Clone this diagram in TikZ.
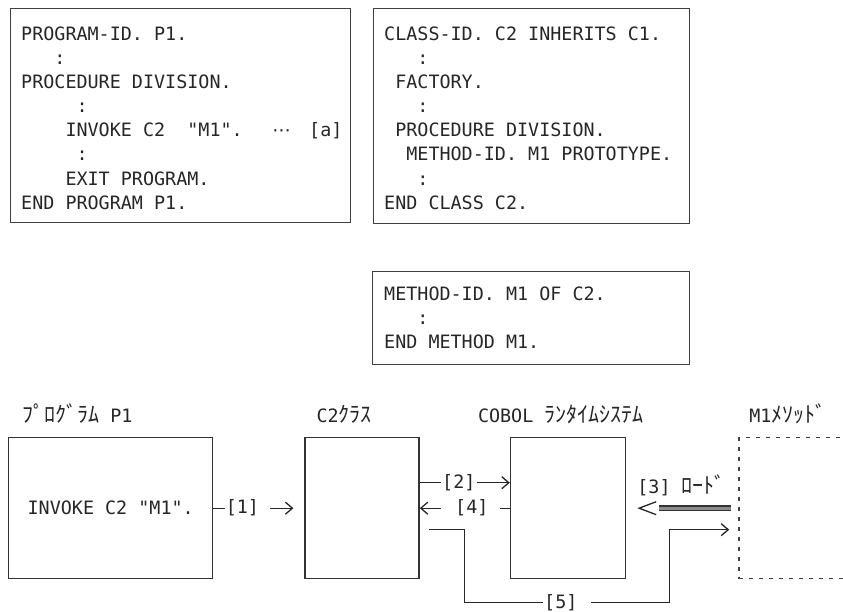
\documentclass[tikz,border=0pt]{standalone}
\usepackage{fontspec}
\usepackage{tikz}
\usetikzlibrary{arrows.meta, positioning}
\newfontfamily\codefont{DejaVu Sans Mono}
\newfontfamily\kana{Noto Sans CJK JP}
\newfontfamily\symfont{DejaVu Sans}
\newcommand{\codesize}{\fontsize{18.4pt}{24.1pt}\selectfont}
\newcommand{\kn}[1]{{\kana\fontsize{22pt}{26pt}\selectfont #1}}
\tikzstyle{srcbox} = [rectangle, draw=black!75, line width=1.4pt,
    anchor=north west, inner sep=0pt]
\tikzstyle{codetext} = [font=\codefont\codesize, align=left,
    anchor=north west, inner sep=0pt, text=black!85]
\tikzstyle{unitbox} = [rectangle, draw=black!80, line width=1.4pt,
    minimum height=141pt, inner sep=0pt, font=\codefont\codesize, text=black!85]
\tikzstyle{heading} = [font=\codefont\codesize, anchor=base west,
    inner sep=0pt, text=black!85]
\tikzstyle{numtag} = [font=\codefont\codesize, inner xsep=1pt,
    inner ysep=0pt, text=black!85]
\tikzstyle{conn} = [line width=1.3pt, draw=black!85]
\tikzstyle{arrow} = [conn, -{Straight Barb[length=7pt, width=12pt]}]
\tikzstyle{loadbar} = [line width=1.4pt, draw=black!80,
    double=black!45, double distance=2.8pt]

\begin{document}
\begin{tikzpicture}[x=1pt, y=-1pt]
  \useasboundingbox (0,0) rectangle (843,612);

  % source listings
  \node (srcP) [srcbox, minimum width=340pt, minimum height=214pt] at (10,8) {};
  \node (srcC) [srcbox, minimum width=316pt, minimum height=215pt] at (373,8) {};
  \node (srcM) [srcbox, minimum width=317pt, minimum height=93pt] at (372,271) {};

  \node (codeP) [codetext] at ([xshift=11pt, yshift=-18.6pt]srcP.north west)
    {PROGRAM-ID. P1.\\
     \phantom{000}:\\
     PROCEDURE DIVISION.\\
     \phantom{00000}:\\
     \phantom{0000}INVOKE C2~~"M1".~~~\makebox[0.602em]{\symfont ⋯}~~[a]\\
     \phantom{00000}:\\
     \phantom{0000}EXIT PROGRAM.\\
     END PROGRAM P1.};
  \node (codeC) [codetext] at ([xshift=11pt, yshift=-18.6pt]srcC.north west)
    {CLASS-ID. C2 INHERITS C1.\\
     \phantom{000}:\\
     \phantom{0}FACTORY.\\
     \phantom{000}:\\
     \phantom{0}PROCEDURE DIVISION.\\
     \phantom{00}METHOD-ID. M1 PROTOTYPE.\\
     \phantom{000}:\\
     END CLASS C2.};
  \node (codeM) [codetext] at ([xshift=12pt, yshift=-15.6pt]srcM.north west)
    {METHOD-ID. M1 OF C2.\\
     \phantom{000}:\\
     END METHOD M1.};

  % runtime units
  \node (progp)  [unitbox, minimum width=204pt, anchor=north west] at (8,437) {INVOKE C2 "M1".};
  \node (clsbox) [unitbox, minimum width=114pt, right=91pt of progp] {};
  \node (rtbox)  [unitbox, minimum width=115pt, right=90pt of clsbox] {};
  \node (m1box)  [unitbox, minimum width=130pt, right=112pt of rtbox,
                  draw=black!75, dash pattern=on 4pt off 6pt] {};

  \node (hdP)  [heading] at ([xshift=14pt, yshift=15pt]progp.north west) {\kn{ﾌﾟﾛｸﾞﾗﾑ} P1};
  \node (hdC)  [heading] at ([xshift=12pt, yshift=15pt]clsbox.north west) {C2\kn{ｸﾗｽ}};
  \node (hdRt) [heading] at ([xshift=-32pt, yshift=15pt]rtbox.north west) {COBOL \kn{ﾗﾝﾀｲﾑｼｽﾃﾑ}};
  \node (hdM)  [heading] at ([xshift=11pt, yshift=15pt]m1box.north west) {M1\kn{ﾒｿｯﾄﾞ}};

  % calls
  \node (n1) [numtag] at ([xshift=29pt]progp.east) {[1]};
  \node (n2) [numtag] at ([xshift=39pt, yshift=25.5pt]clsbox.east) {[2]};
  \node (n4) [numtag] at ([xshift=52pt]clsbox.east) {[4]};
  \node (n5) [numtag] at ([xshift=141pt, yshift=-23pt]clsbox.south east) {[5]};
  \node (n3) [heading] at ([xshift=-101pt, yshift=14.5pt]m1box.west) {[3] \kn{ﾛｰﾄﾞ}};
  \coordinate (ldend) at ([xshift=-99pt]m1box.west);

  \draw[conn] (progp) -- (n1);
  \draw[arrow, shorten <=10pt, shorten >=11pt] (n1) -- (clsbox);
  \draw[conn] (clsbox.east |- n2) -- (n2);
  \draw[arrow] (n2) -- (rtbox.west |- n2);
  \draw[conn, shorten >=10pt] (rtbox) -- (n4);
  \draw[arrow, shorten <=13pt] (n4) -- (clsbox);
  \draw[loadbar, shorten <=7pt, shorten >=20pt] (m1box.west) -- (ldend);
  \draw[conn] ([xshift=17pt, yshift=6.5pt]ldend) -- (ldend) -- ([xshift=17pt, yshift=-6.5pt]ldend);
  \draw[conn, shorten <=9pt] ([yshift=-21.5pt]clsbox.east) -- ++(45,0) |- (n5);
  \draw[arrow, shorten <=12pt, shorten >=9pt] (n5) -- ++(109,0) |- ([yshift=-21.5pt]m1box.west);
\end{tikzpicture}
\end{document}
